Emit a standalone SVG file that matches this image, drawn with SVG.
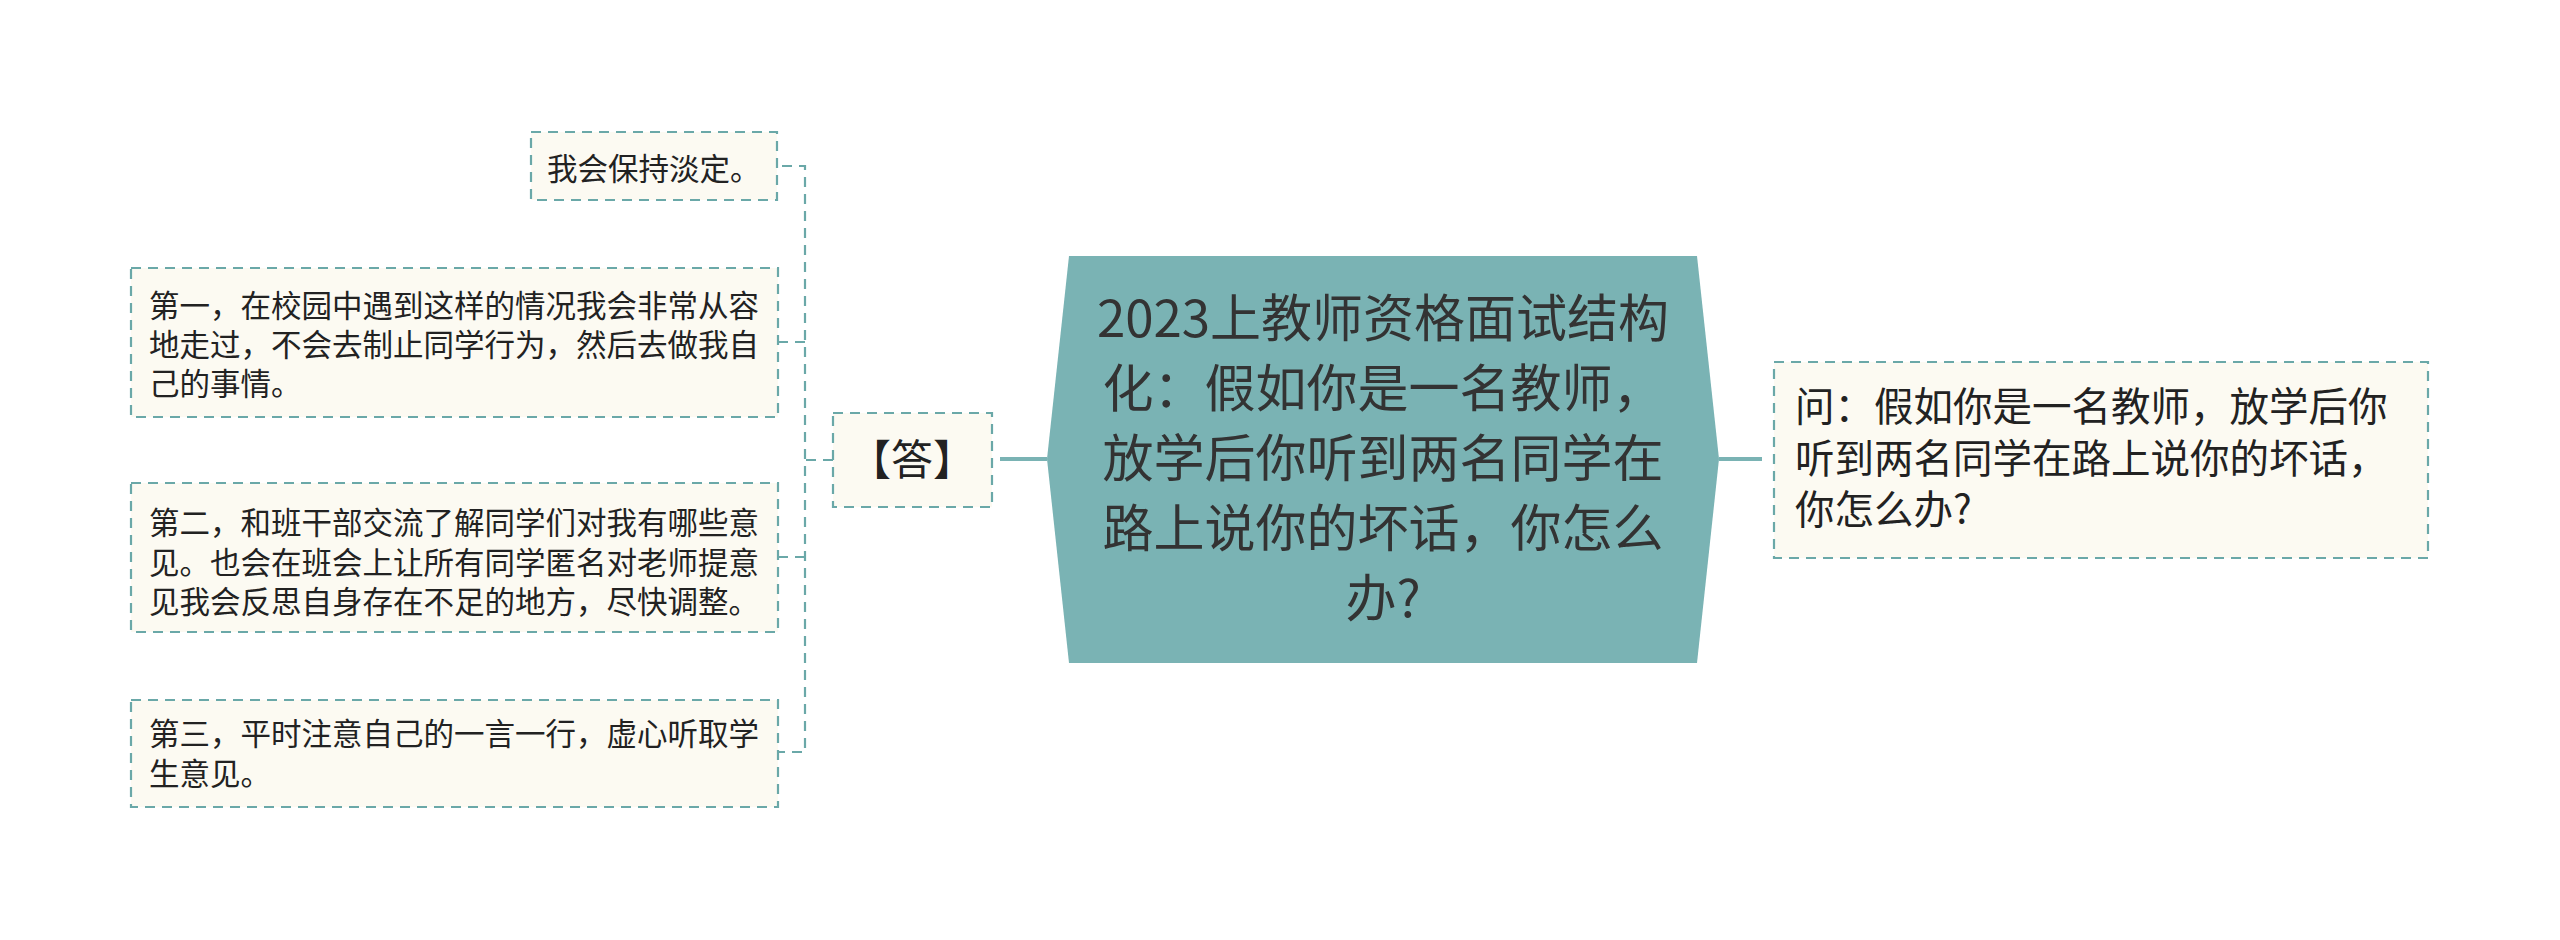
<svg xmlns="http://www.w3.org/2000/svg" width="2560" height="940" viewBox="0 0 2560 940">
<style>
.box{fill:#fcfaf2;stroke:#6aa8a8;stroke-width:2.2;stroke-dasharray:10 7}
.dash{fill:none;stroke:#6aa8a8;stroke-width:2.2;stroke-dasharray:10 7}
.solid{fill:none;stroke:#7ab3b4;stroke-width:4}
.t{font-family:"Noto Sans CJK SC","Noto Sans",sans-serif;fill:#222}
.s{font-size:30.5px}
.m{font-size:39.5px}
.a{font-size:42px}
.c{font-size:51px;fill:#333;text-anchor:middle}
</style>
<rect width="2560" height="940" fill="#ffffff"/>
<g id="connectors">
<line class="solid" x1="1719" y1="459" x2="1762" y2="459"/>
<line class="solid" x1="1047" y1="459" x2="1000" y2="459"/>
<line class="dash" x1="806" y1="460" x2="833" y2="460"/>
<path class="dash" d="M782 166 H805 V752 H778"/>
<line class="dash" x1="778" y1="342" x2="805" y2="342"/>
<line class="dash" x1="778" y1="557" x2="805" y2="557"/>
</g>
<g id="root">
<polygon points="1069,256 1697,256 1719,459 1697,663 1069,663 1047,459" fill="#7ab3b4"/>
<text class="t c"><tspan x="1383" y="337">2023上教师资格面试结构</tspan><tspan x="1383" y="407">化：假如你是一名教师，</tspan><tspan x="1383" y="477">放学后你听到两名同学在</tspan><tspan x="1383" y="547">路上说你的坏话，你怎么</tspan><tspan x="1383" y="617">办?</tspan></text>
</g>
<g id="question">
<rect class="box" x="1774" y="362" width="654" height="196"/>
<text class="t m"><tspan x="1795" y="421">问：假如你是一名教师，放学后你</tspan><tspan x="1795" y="473">听到两名同学在路上说你的坏话，</tspan><tspan x="1795" y="524">你怎么办?</tspan></text>
</g>
<g id="answer">
<rect class="box" x="833" y="413" width="159" height="94"/>
<text class="t a" x="912" y="475" text-anchor="middle">【答】</text>
</g>
<g id="a1">
<rect class="box" x="531" y="132" width="246" height="68"/>
<text class="t s" x="547" y="180">我会保持淡定。</text>
</g>
<g id="a2">
<rect class="box" x="131" y="268" width="647" height="149"/>
<text class="t s"><tspan x="149" y="317">第一，在校园中遇到这样的情况我会非常从容</tspan><tspan x="149" y="356">地走过，不会去制止同学行为，然后去做我自</tspan><tspan x="149" y="395">己的事情。</tspan></text>
</g>
<g id="a3">
<rect class="box" x="131" y="483" width="647" height="149"/>
<text class="t s"><tspan x="149" y="534">第二，和班干部交流了解同学们对我有哪些意</tspan><tspan x="149" y="574">见。也会在班会上让所有同学匿名对老师提意</tspan><tspan x="149" y="613">见我会反思自身存在不足的地方，尽快调整。</tspan></text>
</g>
<g id="a4">
<rect class="box" x="131" y="700" width="647" height="107"/>
<text class="t s"><tspan x="149" y="745">第三，平时注意自己的一言一行，虚心听取学</tspan><tspan x="149" y="785">生意见。</tspan></text>
</g>
</svg>
